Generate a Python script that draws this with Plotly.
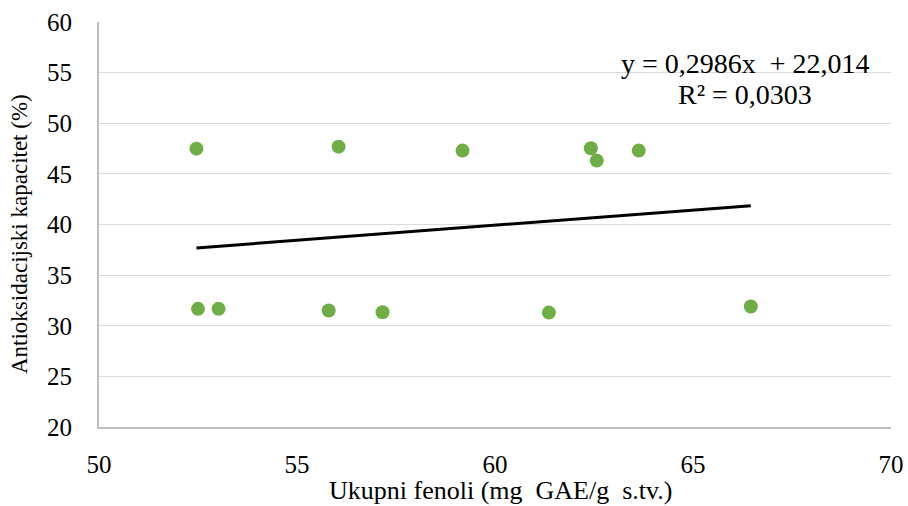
import plotly.graph_objects as go

# Total phenols (mg GAE/g d.w.) vs antioxidant capacity (%)
fenoli = [52.46, 52.50, 53.02, 55.80, 56.05, 57.16, 59.18, 61.36, 62.42, 62.57, 63.63, 66.46]
kapacitet = [47.49, 31.67, 31.67, 31.50, 47.69, 31.34, 47.30, 31.30, 47.53, 46.31, 47.30, 31.90]

# Linear trendline coefficients
nagib = 0.2986
odsjecak = 22.014
r2 = 0.0303

x_ticks = [50, 55, 60, 65, 70]
y_ticks = [20, 25, 30, 35, 40, 45, 50, 55, 60]

FONT = "Liberation Serif, Times New Roman, serif"

x_line = [min(fenoli), max(fenoli)]
y_line = [nagib * v + odsjecak for v in x_line]

fig = go.Figure()
fig.add_trace(go.Scatter(
    x=x_line, y=y_line, mode="lines",
    line=dict(color="black", width=3),
    hoverinfo="skip", showlegend=False,
))
fig.add_trace(go.Scatter(
    x=fenoli, y=kapacitet, mode="markers",
    marker=dict(color="#70ad47", size=14, line=dict(width=0)),
    showlegend=False,
))

# Trendline equation and R² label
fig.add_annotation(
    x=66.32, y=55.95, xref="x", yref="y",
    text="y = 0,2986x\u00a0\u00a0+ 22,014",
    showarrow=False, font=dict(family=FONT, size=28, color="black"),
    xanchor="center", yanchor="middle",
)
fig.add_annotation(
    x=66.32, y=52.8, xref="x", yref="y",
    text=f"R² = {str(r2).replace('.', ',')}",
    showarrow=False, font=dict(family=FONT, size=28, color="black"),
    xanchor="center", yanchor="middle",
)

# Axis titles
fig.add_annotation(
    x=0.5076, y=0, xref="paper", yref="paper", yshift=-63,
    text="Ukupni fenoli (mg\u00a0\u00a0GAE/g\u00a0\u00a0s.tv.)",
    showarrow=False, font=dict(family=FONT, size=26, color="black"),
    xanchor="center", yanchor="middle",
)
fig.add_annotation(
    x=0, y=0.4765, xref="paper", yref="paper", xshift=-80,
    text="Antioksidacijski kapacitet (%)", textangle=-90,
    showarrow=False, font=dict(family=FONT, size=23, color="black"),
    xanchor="center", yanchor="middle",
)

fig.update_layout(
    width=908, height=506,
    margin=dict(l=99, r=17, t=22, b=79),
    paper_bgcolor="white", plot_bgcolor="white",
    font=dict(family=FONT, size=25, color="black"),
    xaxis=dict(
        range=[50, 70], tickvals=x_ticks, ticktext=[str(v) for v in x_ticks],
        showgrid=False, zeroline=False, automargin=False,
        showline=True, linecolor="#bfbfbf", linewidth=2,
        ticks="", ticklabelstandoff=14,
    ),
    yaxis=dict(
        range=[20, 60], tickvals=y_ticks, ticktext=[str(v) for v in y_ticks],
        showgrid=True, gridcolor="#d9d9d9", gridwidth=1, zeroline=False,
        automargin=False,
        showline=True, linecolor="#bfbfbf", linewidth=2,
        ticks="", ticklabelstandoff=20,
    ),
)

fig.write_html("out.html")
